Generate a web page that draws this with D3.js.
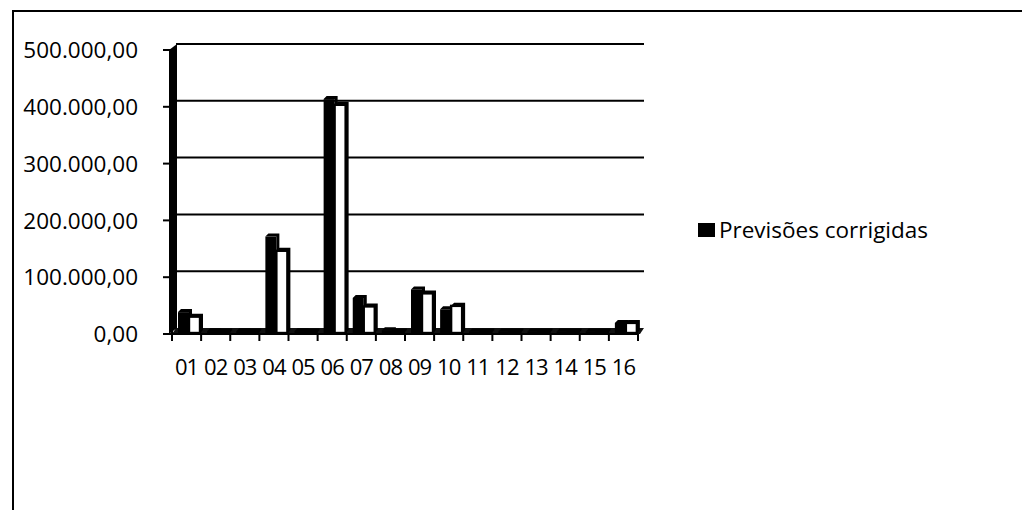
<!DOCTYPE html>
<html>
<head>
<meta charset="utf-8">
<script src="https://cdn.jsdelivr.net/npm/d3@7"></script>
<style>
  html, body { margin: 0; padding: 0; background: #fff; }
  svg { display: block; }
  text { font-family: "Open Sans", "Noto Sans", sans-serif; fill: #000; }
</style>
</head>
<body>
<svg id="chart" width="1022" height="510"></svg>
<script>
// ---- data ----
const categories = ["01","02","03","04","05","06","07","08","09","10","11","12","13","14","15","16"];
const seriesNames = ["Previsões corrigidas", "Previsões iniciais"];
const corrigidas = [35000, 1500, 1500, 168000, 1500, 410000, 60000, 3000, 75000, 40000, 1000, 1000, 1000, 1000, 1000, 16000];
const iniciais   = [27000, 1000, 1000, 143000, 1000, 400000, 45000, 1000, 68000, 46000, 1000, 1000, 1000, 1000, 1000, 16000];
const yTicks = [0, 100000, 200000, 300000, 400000, 500000];

(function () {
const svg = d3.select("#chart");
const fmt = v => {
  const s = d3.format(",.2f")(v);
  return s.replace(/,/g, "#").replace(".", ",").replace(/#/g, ".");
};

// layout
const pLeft = 172, pRight = 638, pBase = 334, pTop = 50;
const dx = 4, dy = 6;   // 3D depth offset of back wall

const x = d3.scaleBand().domain(categories).range([pLeft, pRight]).paddingInner(0).paddingOuter(0);
const yFront = d3.scaleLinear().domain([0, 500000]).range([pBase, pTop]);
const yBack = v => yFront(v) - dy;
const yBar = v => yFront(v) - 2;
const sub = d3.scaleBand().domain(seriesNames).range([6, 28]).padding(0);

// frame (scan edges)
svg.append("path").attr("d", "M13,510 L13,11 L1022,11")
  .attr("fill", "none").attr("stroke", "#000").attr("stroke-width", 2);

// back-wall gridlines
svg.append("g").selectAll("line").data(yTicks.filter(d => d > 0)).join("line")
  .attr("x1", pLeft + dx).attr("x2", pRight + dx + 2)
  .attr("y1", d => yBack(d)).attr("y2", d => yBack(d))
  .attr("stroke", "#000").attr("stroke-width", 2);

// floor
svg.append("path")
  .attr("d", `M${pLeft},${pBase} L${pLeft + dx},${pBase - dy} L${pRight + dx + 2},${pBase - dy} L${pRight + 2},${pBase} Z`)
  .attr("fill", "#111");

// left side wall
svg.append("path")
  .attr("d", `M${pLeft - 3},${yFront(500000)} L${pLeft + dx + 1},${yBack(500000)} L${pLeft + dx + 1},${pBase - dy} L${pLeft - 3},${pBase} Z`)
  .attr("fill", "#000");

// bars
const bars = svg.append("g");
const drawBar = (vals, name, fillFront) => {
  const w = sub.bandwidth();
  const g = bars.append("g");
  categories.forEach((c, i) => {
    const x0 = x(c) + sub(name);
    const y0 = yBar(vals[i]);
    const b = pBase - 1;
    g.append("path")
      .attr("d", `M${x0},${y0} L${x0 + 3},${y0 - 3} L${x0 + w + 3},${y0 - 3} L${x0 + w + 3},${b - 3} L${x0 + w},${b} L${x0 + w},${y0} Z`)
      .attr("fill", "#000");
    g.append("rect")
      .attr("x", x0).attr("y", y0).attr("width", w).attr("height", Math.max(0, b - y0))
      .attr("fill", fillFront).attr("stroke", "#000").attr("stroke-width", fillFront === "#000" ? 0 : 2.4);
  });
};
drawBar(corrigidas, seriesNames[0], "#000");
drawBar(iniciais, seriesNames[1], "#fff");

// y axis
svg.append("line").attr("x1", pLeft).attr("x2", pLeft).attr("y1", pTop).attr("y2", pBase)
  .attr("stroke", "#000").attr("stroke-width", 2);
const yAxis = svg.append("g");
yAxis.selectAll("line").data(yTicks).join("line")
  .attr("x1", pLeft - 9).attr("x2", pLeft).attr("y1", d => yFront(d)).attr("y2", d => yFront(d))
  .attr("stroke", "#000").attr("stroke-width", 2);
yAxis.selectAll("text").data(yTicks).join("text")
  .attr("x", 138).attr("y", d => yFront(d)).attr("dy", "0.36em")
  .attr("text-anchor", "end").attr("font-size", 22.5).text(fmt);

// x axis
svg.append("line").attr("x1", pLeft).attr("x2", pRight).attr("y1", pBase).attr("y2", pBase)
  .attr("stroke", "#000").attr("stroke-width", 2);
const xAxis = svg.append("g");
const bounds = categories.map(c => x(c)).concat([pRight]);
xAxis.selectAll("line").data(bounds).join("line")
  .attr("x1", d => d).attr("x2", d => d).attr("y1", pBase).attr("y2", pBase + 7)
  .attr("stroke", "#000").attr("stroke-width", 2);
xAxis.selectAll("text").data(categories).join("text")
  .attr("x", d => x(d) + x.bandwidth() / 2).attr("y", 375)
  .attr("text-anchor", "middle").attr("font-size", 22).attr("letter-spacing", -1).text(d => d);

// legend
const lg = svg.append("g");
lg.append("rect").attr("x", 698).attr("y", 223).attr("width", 17).attr("height", 14).attr("fill", "#000");
lg.append("text").attr("x", 719).attr("y", 230).attr("dy", "0.36em").attr("font-size", 22.5).text(seriesNames[0]);
})();
</script>
</body>
</html>
